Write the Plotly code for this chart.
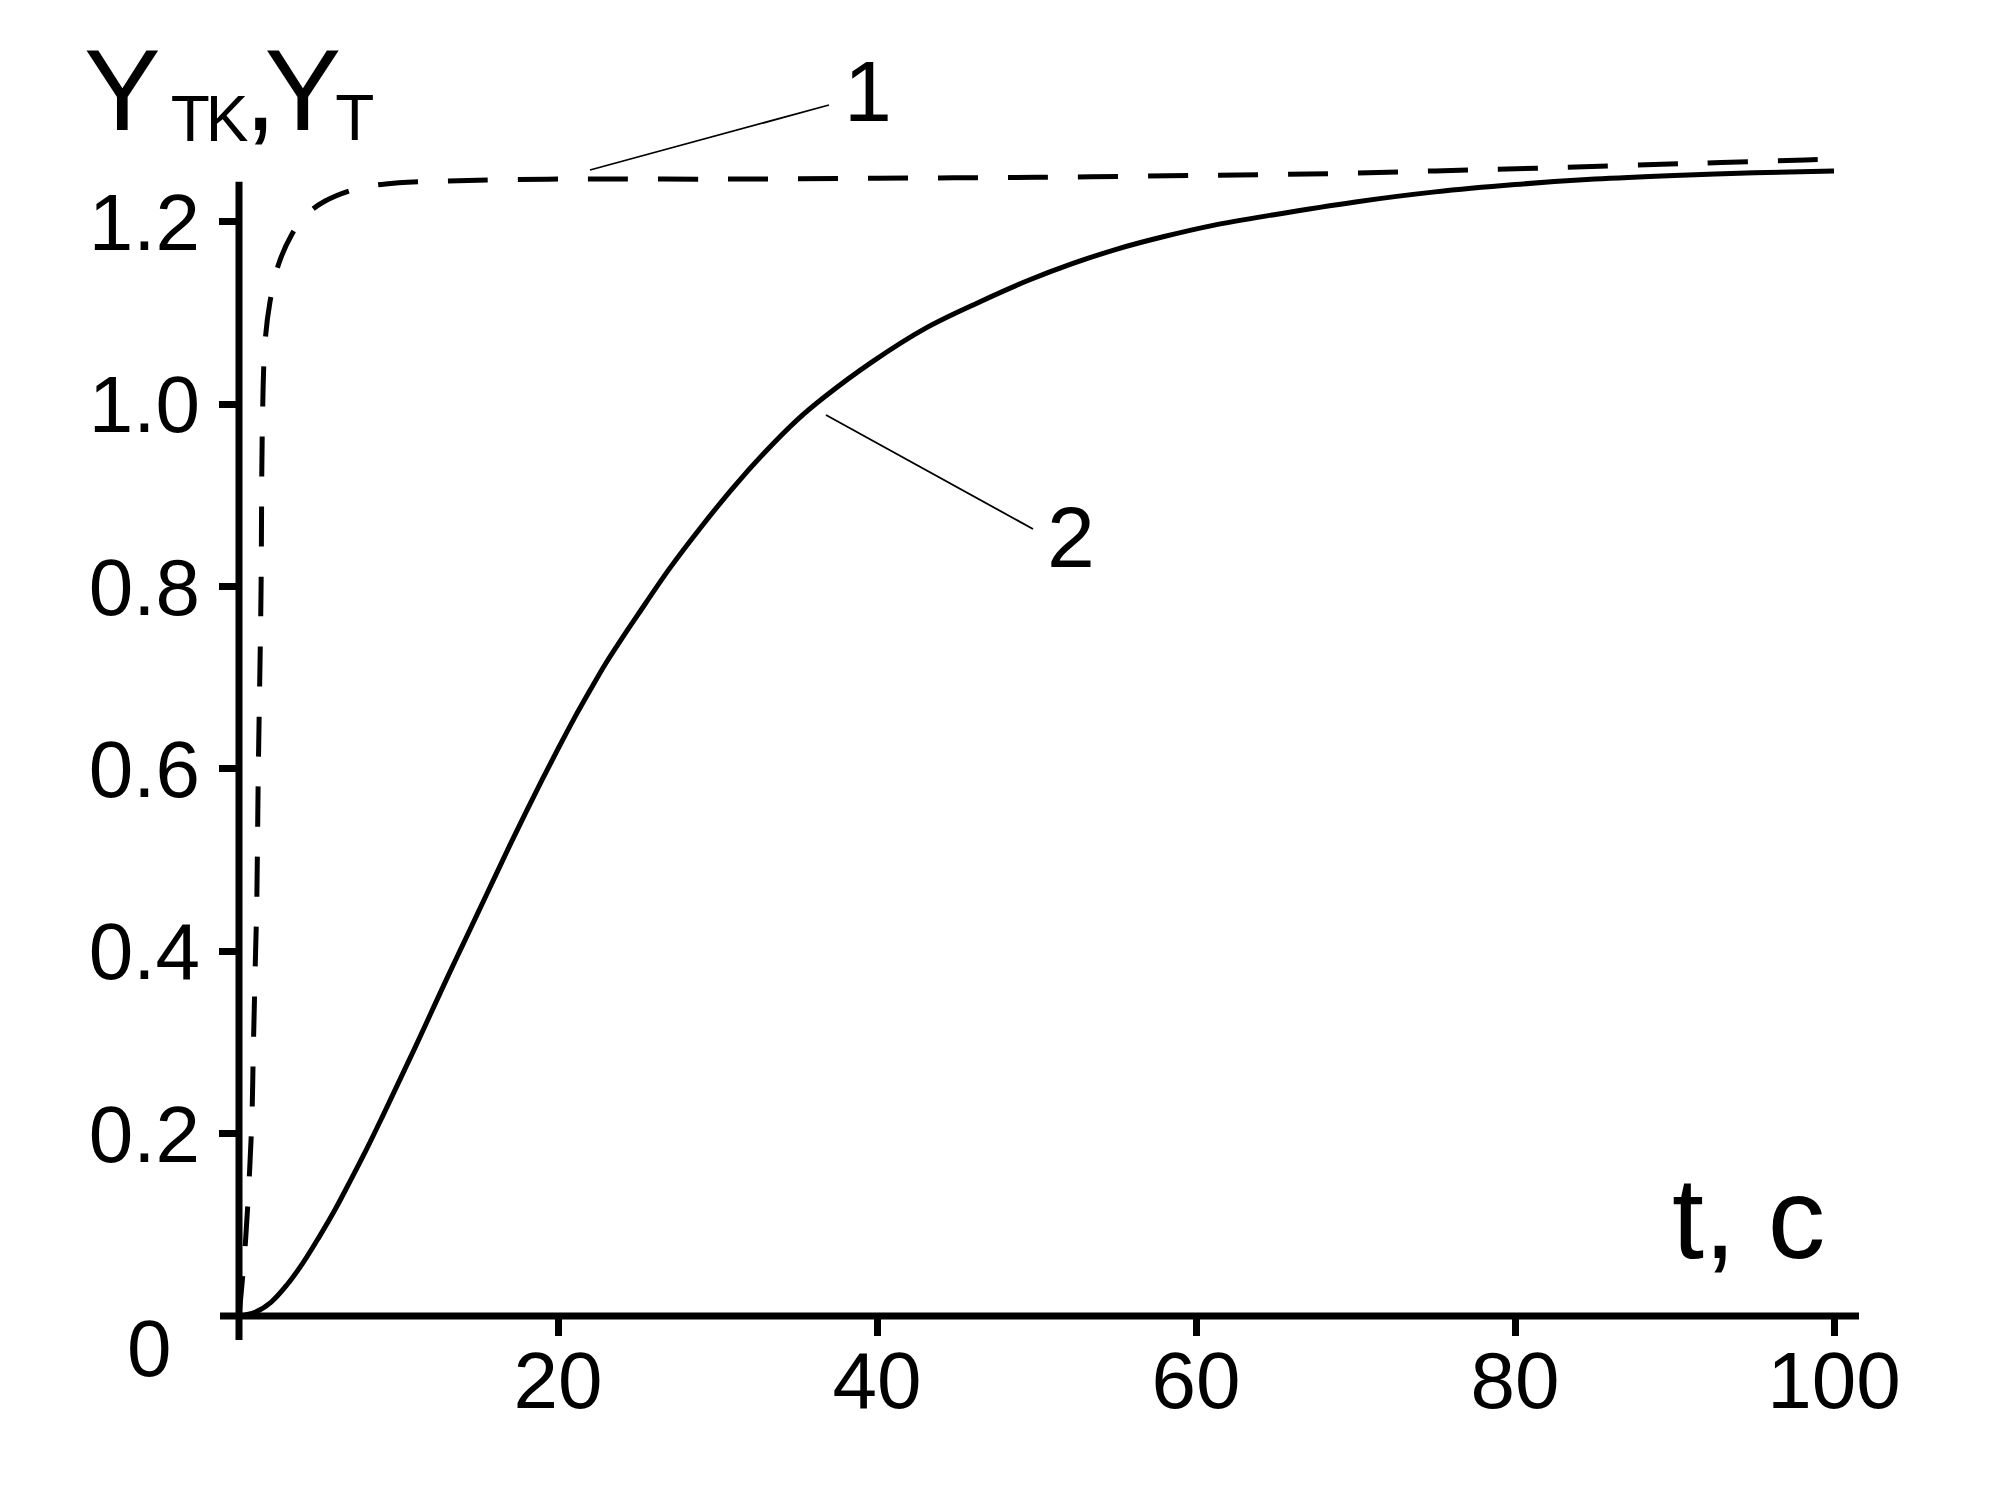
import plotly.graph_objects as go

# ---- data ----
t_tk = [0, 0.4, 0.79, 0.9, 1.04, 1.11, 1.21, 1.38, 1.46, 1.63, 1.94, 2.47, 3.3, 4.1, 5.4, 7.5,
        10, 13, 20, 30, 40, 50, 60, 68.3, 75, 81.4, 90.7, 98.2, 100]
y_tk = [0, 0.08, 0.208, 0.294, 0.40, 0.449, 0.597, 0.793, 0.970, 1.067, 1.112, 1.153, 1.186, 1.206,
        1.223, 1.237, 1.243, 1.245, 1.247, 1.247, 1.248, 1.249, 1.251, 1.253, 1.256, 1.259, 1.264,
        1.268, 1.269]

t_t = [0, 1, 2, 3, 4, 5, 6, 7, 8, 9, 10, 11, 12, 13, 14, 15, 16, 17, 18, 19, 20, 21, 22, 23,
       24, 25, 27, 29, 31, 33, 35, 36.7, 39.65, 43, 46.4, 49.5, 52.2, 55, 58, 61, 64.9, 70, 75,
       80, 85, 90, 95, 100]
y_t = [0, 0.004, 0.015, 0.034, 0.058, 0.086, 0.116, 0.149, 0.183, 0.219, 0.256, 0.293, 0.331,
       0.369, 0.406, 0.443, 0.480, 0.517, 0.553, 0.588, 0.622, 0.655, 0.686, 0.716, 0.743, 0.769,
       0.820, 0.866, 0.909, 0.948, 0.983, 1.008, 1.046, 1.083, 1.112, 1.136, 1.154, 1.170, 1.184,
       1.196, 1.208, 1.222, 1.233, 1.241, 1.247, 1.251, 1.254, 1.256]

x_ticks = [20, 40, 60, 80, 100]
x_ticktext = ["20", "40", "60", "80", "100"]
y_ticks = [0.2, 0.4, 0.6, 0.8, 1.0, 1.2]
y_ticktext = ["0.2", "0.4", "0.6", "0.8", "1.0", "1.2"]
origin_label = "0"
y_axis_top = 1.244

FONT = "Liberation Sans, Arial, Helvetica, sans-serif"

# ---- geometry (page pixels; body has an 8px default margin) ----
BODY = 8
W, H = 1985, 1485
PL, PR, PB = 239, 1859, 1316          # plot left / right / bottom on page
PX_PER_Y = 911.7
PX_PER_X = 15.95
plot_w = PR - PL
y_top = 1.30
plot_h = round(y_top * PX_PER_Y)
y_top = plot_h / PX_PER_Y
PT = PB - plot_h
x_top = plot_w / PX_PER_X


def px(xp):
    return (xp - PL) / plot_w


def py(yp):
    return (PB - yp) / plot_h


fig = go.Figure()
fig.add_trace(go.Scatter(x=t_tk, y=y_tk, mode="lines", name="1",
                         line=dict(color="black", width=5, dash="40px,30px"),
                         line_shape="spline"))
fig.add_trace(go.Scatter(x=t_t, y=y_t, mode="lines", name="2",
                         line=dict(color="black", width=5), line_shape="spline"))

shapes = [
    # axes (extended a little past the origin, as in the reference)
    dict(type="line", xref="paper", yref="paper", x0=px(220), x1=1, y0=0, y1=0,
         line=dict(color="black", width=7)),
    dict(type="line", xref="paper", yref="paper", x0=0, x1=0, y0=py(1340),
         y1=y_axis_top / y_top, line=dict(color="black", width=7)),
    # leader lines
    dict(type="line", xref="paper", yref="paper", x0=px(590), y0=py(170), x1=px(829), y1=py(105),
         line=dict(color="black", width=1.8)),
    dict(type="line", xref="paper", yref="paper", x0=px(826), y0=py(415), x1=px(1033), y1=py(529),
         line=dict(color="black", width=1.8)),
]


def ann(text, xp, yp, size, xanchor="left"):
    return dict(text=text, xref="paper", yref="paper", x=px(xp), y=py(yp),
                xanchor=xanchor, yanchor="middle", showarrow=False,
                font=dict(family=FONT, size=size, color="black"))


y_label = ('<span style="letter-spacing:10px">Y</span>'
           '<span style="font-size:64px;letter-spacing:-4px;baseline-shift:-11px">TK</span>'
           '<span style="letter-spacing:-12px">,</span>'
           '<span style="letter-spacing:-6px">Y</span>'
           '<span style="font-size:64px;baseline-shift:-10px">T</span>')

annotations = [
    ann(y_label, 82, 130 - 39.8, 115),
    ann("t, c", 1670, 1258 - 0.3465 * 115, 115),
    ann(origin_label, 149, 1376 - 0.3465 * 80, 80, "center"),
    ann("1", 868, 121 - 0.3465 * 86, 86, "center"),
    ann("2", 1071, 567 - 0.3465 * 86, 86, "center"),
]

fig.update_layout(
    width=W, height=H,
    margin=dict(l=PL - BODY, r=W - (PR - BODY), t=PT - BODY, b=H - (PB - BODY), pad=0),
    paper_bgcolor="white", plot_bgcolor="white",
    showlegend=False,
    shapes=shapes, annotations=annotations,
    font=dict(family=FONT, color="black"),
    xaxis=dict(range=[0, x_top], showgrid=False, zeroline=False, showline=False,
               tickmode="array", tickvals=x_ticks, ticktext=x_ticktext,
               ticks="outside", ticklen=19, tickwidth=7, tickcolor="black",
               tickfont=dict(family=FONT, size=80, color="black"), ticklabelstandoff=-24),
    yaxis=dict(range=[0, y_top], showgrid=False, zeroline=False, showline=False,
               tickmode="array", tickvals=y_ticks, ticktext=y_ticktext,
               ticks="outside", ticklen=19, tickwidth=7, tickcolor="black",
               tickfont=dict(family=FONT, size=80, color="black"), ticklabelstandoff=3),
)

fig.write_html("out.html")
